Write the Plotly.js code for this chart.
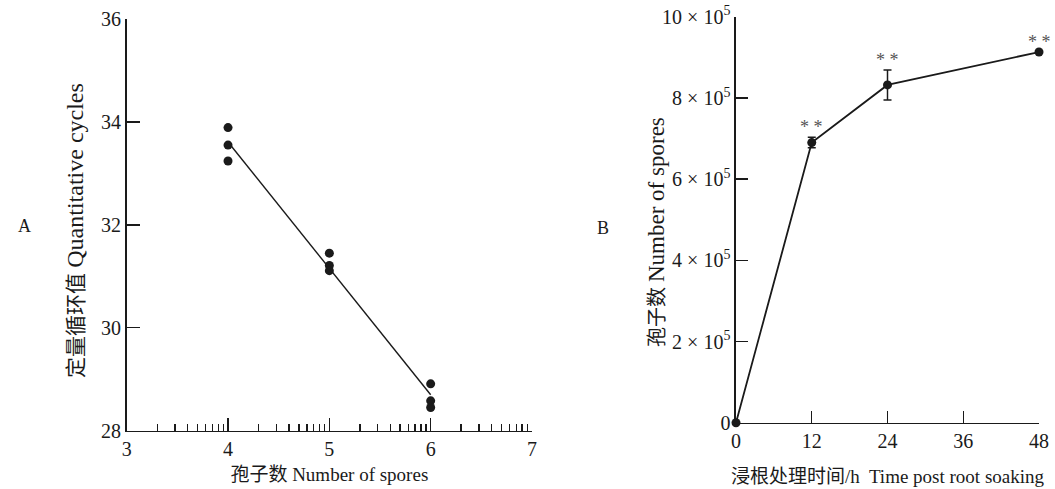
<!DOCTYPE html>
<html>
<head>
<meta charset="utf-8">
<script src="https://cdn.plot.ly/plotly-3.0.1.min.js"></script>
<style>
html,body{margin:0;padding:0;background:#fff;}
#chart{width:1055px;height:489px;}
</style>
</head>
<body>
<div id="chart"></div>
<script>
// ---- Panel A data: quantitative cycles vs log10 spore number ----
const ctLogSpores = [4, 4, 4, 5, 5, 5, 6, 6, 6];
const ctCycles = [33.89, 33.55, 33.24, 31.45, 31.21, 31.11, 28.91, 28.58, 28.45];
const aTickVals = [3, 4, 5, 6, 7];
const aTickText = ["3", "4", "5", "6", "7"];
const aYTickVals = [28, 30, 32, 34, 36];

// ---- Panel B data: spore number vs time after root soaking ----
const hours = [0, 12, 24, 48];
const spores = [0, 690000, 832000, 913000];
const sporesErr = [0, 13000, 37000, 0];
const sigMarks = ["", "* *", "* *", "* *"];
const bXTickVals = [0, 12, 24, 36, 48];
const bYTickVals = [0, 200000, 400000, 600000, 800000, 1000000];
const bYTickText = ["0", "2 × 10<sup>5</sup>", "4 × 10<sup>5</sup>", "6 × 10<sup>5</sup>", "8 × 10<sup>5</sup>", "10 × 10<sup>5</sup>"];

// least-squares fit for panel A
function linFit(xs, ys) {
  const n = xs.length;
  const mx = xs.reduce((a, b) => a + b, 0) / n;
  const my = ys.reduce((a, b) => a + b, 0) / n;
  let sxy = 0, sxx = 0;
  for (let i = 0; i < n; i++) { sxy += (xs[i] - mx) * (ys[i] - my); sxx += (xs[i] - mx) ** 2; }
  const slope = sxy / sxx;
  return { slope, intercept: my - slope * mx };
}
const fit = linFit(ctLogSpores, ctCycles);
const fitX = [Math.min(...ctLogSpores), Math.max(...ctLogSpores)];
const fitY = fitX.map(x => fit.intercept + fit.slope * x);

// log-style minor ticks within each decade
const minorVals = [];
for (let d = 3; d < 7; d++) for (let k = 2; k <= 9; k++) minorVals.push(d + Math.log10(k));

const FONT = "Liberation Serif, Noto Sans CJK SC, serif";
const INK = "#1a1a1a";

const traces = [
  { x: fitX, y: fitY, mode: "lines", line: { color: INK, width: 1.4 }, xaxis: "x", yaxis: "y", hoverinfo: "skip", showlegend: false },
  { x: ctLogSpores, y: ctCycles, mode: "markers", marker: { color: INK, size: 9 }, xaxis: "x", yaxis: "y", showlegend: false, cliponaxis: false },
  { x: hours, y: spores, mode: "lines+markers", line: { color: INK, width: 1.8 }, marker: { color: INK, size: 9 },
    error_y: { type: "data", array: sporesErr, visible: true, color: INK, thickness: 1.5, width: 4 },
    xaxis: "x2", yaxis: "y2", showlegend: false, cliponaxis: false }
];

const annotations = [];
hours.forEach((h, i) => {
  if (sigMarks[i]) annotations.push({ x: h, y: spores[i] + sporesErr[i], xref: "x2", yref: "y2", text: sigMarks[i],
    showarrow: false, yanchor: "bottom", yshift: -2, font: { family: FONT, size: 18, color: "#555" } });
});
annotations.push({ x: 16 / 1055, y: 1 - 226 / 489, xref: "paper", yref: "paper", text: "A", showarrow: false,
  font: { family: FONT, size: 18, color: INK } });
annotations.push({ x: 603 / 1055, y: 1 - 228 / 489, xref: "paper", yref: "paper", text: "B", showarrow: false,
  font: { family: FONT, size: 18, color: INK } });
annotations.push({ x: 60 / 1055, y: 1 - 231 / 489, xref: "paper", yref: "paper",
  text: "定量循环值 <span style=\"font-size:24px\">Quantitative cycles</span>",
  textangle: -90, showarrow: false, font: { family: FONT, size: 21, color: INK } });
annotations.push({ x: 656 / 1055, y: 1 - 232 / 489, xref: "paper", yref: "paper",
  text: "孢子数 <span style=\"font-size:23px\">Number of spores</span>",
  textangle: -90, showarrow: false, font: { family: FONT, size: 20, color: INK } });

const axBase = { showline: true, linecolor: INK, linewidth: 1.6, showgrid: false, zeroline: false,
  ticks: "inside", tickcolor: INK, tickwidth: 1.4, ticklen: 13, tickfont: { family: FONT, size: 20, color: INK } };

const layout = {
  width: 1055, height: 489,
  margin: { l: 0, r: 0, t: 0, b: 0 },
  paper_bgcolor: "#fff", plot_bgcolor: "#fff",
  font: { family: FONT, color: INK },
  showlegend: false,
  xaxis: Object.assign({}, axBase, {
    domain: [126.7 / 1055, 532 / 1055], range: [3, 7], tickmode: "array", tickvals: aTickVals, ticktext: aTickText,
    minor: { tickmode: "array", tickvals: minorVals, ticks: "inside", ticklen: 7, tickwidth: 1.4, tickcolor: INK, showgrid: false },
    anchor: "y",
    title: { text: "孢子数 Number of spores", font: { family: FONT, size: 19, color: INK }, standoff: 8 }
  }),
  yaxis: Object.assign({}, axBase, {
    domain: [1 - 430.7 / 489, 1 - 19 / 489], range: [28, 36], tickmode: "array", tickvals: aYTickVals, anchor: "x"
  }),
  xaxis2: Object.assign({}, axBase, {
    domain: [736 / 1055, 1039 / 1055], range: [0, 48], tickmode: "array", tickvals: bXTickVals, ticklen: 12, anchor: "y2",
    title: { text: "浸根处理时间/h  Time post root soaking", font: { family: FONT, size: 19, color: INK }, standoff: 18 }
  }),
  yaxis2: Object.assign({}, axBase, {
    domain: [1 - 422.7 / 489, 1 - 16.7 / 489], range: [0, 1000000], tickmode: "array", tickvals: bYTickVals, ticktext: bYTickText,
    ticklen: 12, anchor: "x2"
  }),
  annotations: annotations
};

Plotly.newPlot("chart", traces, layout, { displayModeBar: false, staticPlot: true });
</script>
</body>
</html>
